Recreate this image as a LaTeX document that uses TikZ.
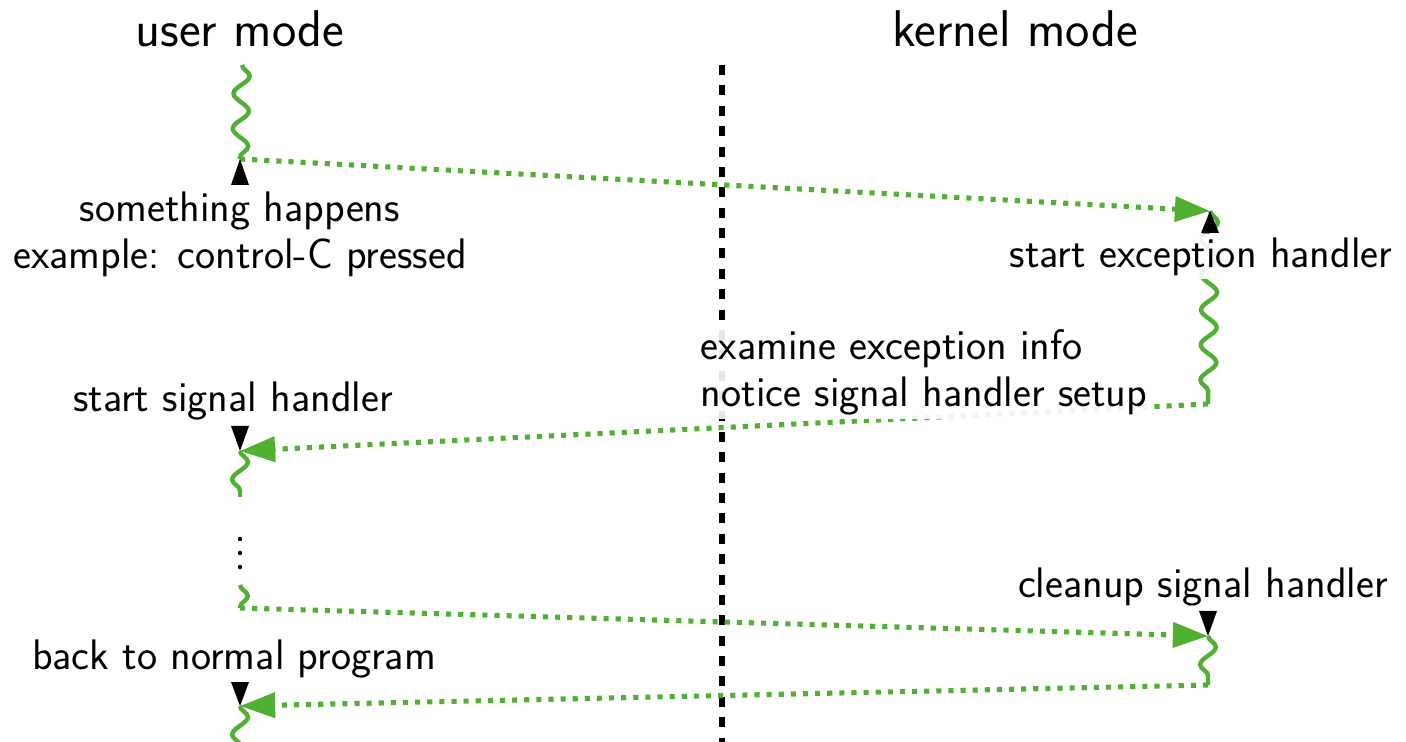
\documentclass[tikz,border=0pt]{standalone}
\usepackage{fontspec}
\usetikzlibrary{decorations.pathmorphing,arrows.meta}
\definecolor{sigreen}{RGB}{80,176,50}
\begin{document}
\begin{tikzpicture}[x=0.02cm,y=-0.02cm,
  sepline/.style={draw=black, line width=3pt, dash pattern=on 5.7pt off 5.9pt},
  flow/.style={draw=sigreen, line width=2.9pt, dash pattern=on 2.9pt off 4pt,
     -{Triangle[length=20pt,width=14pt,fill=sigreen]}},
  wiggle/.style={draw=sigreen, line width=2.5pt, decorate,
     decoration={snake, amplitude=4.5pt, segment length=20pt}},
  trig/.style={fill=black},
  lbl/.style={font=\sffamily\fontsize{24.3}{26.6}\selectfont, fill=white,
     fill opacity=0.9, text opacity=1, inner sep=2pt},
  mode/.style={font=\sffamily\fontsize{29.4}{34}\selectfont, inner sep=0pt},
  dot/.style={fill=black}]
\useasboundingbox (0,0) rectangle (1406,742);
% coordinates
\coordinate (s0) at (722,65);
\coordinate (s1) at (722,742);
\coordinate (u0) at (242,65);
\coordinate (u1) at (240,159);
\coordinate (k1) at (1210,211);
\coordinate (k2) at (1208,404);
\coordinate (u2) at (240,451);
\coordinate (u3) at (240,497);
\coordinate (u4) at (240,585);
\coordinate (u5) at (240,608);
\coordinate (k3) at (1208,636);
\coordinate (k4) at (1208,685);
\coordinate (u6) at (240,706);
\coordinate (u7) at (240,760);
% headings
\node[mode, anchor=base] (um) at (240,47) {user mode};
\node[mode, anchor=base] (km) at (1015,47) {kernel mode};
% separator
\draw[sepline] (s0) -- (s1);
% wiggles
\draw[wiggle] (u0) -- (u1);
\draw[wiggle] (k1) -- (k2);
\draw[wiggle] (u2) -- (u3);
\draw[wiggle] (u4) -- (u5);
\draw[wiggle] (k3) -- (k4);
\draw[wiggle] (u6) -- (u7);
% transfers
\draw[flow] (u1) -- (k1);
\draw[flow] (k2) -- (u2);
\draw[flow] (u5) -- (k3);
\draw[flow] (k4) -- (u6);
% labels
\node[lbl, align=center, anchor=north] (l1) at (240,188) {something happens\\example: control-C pressed};
\node[lbl, anchor=north] (l2) at (1201,234) {start exception handler};
\node[lbl, align=left, anchor=north west] (l3) at (697,326) {examine exception info\\notice signal handler setup};
\node[lbl, anchor=south] (l4) at (233,424) {start signal handler};
\node[lbl, anchor=south] (l5) at (1203,610) {cleanup signal handler};
\node[lbl, anchor=south] (l6) at (234,682) {back to normal program};
% vertical ellipsis
\fill[dot] (240,539) circle (2.2);
\fill[dot] (240,553) circle (2.2);
\fill[dot] (240,567) circle (2.2);
% markers
\fill[trig] (u1) -- ++(-9,26) -- ++(18,0) -- cycle;
\fill[trig] (k1) -- ++(-9,22) -- ++(18,0) -- cycle;
\fill[trig] (u2) -- ++(-9,-25) -- ++(18,0) -- cycle;
\fill[trig] (k3) -- ++(-9,-25) -- ++(18,0) -- cycle;
\fill[trig] (u6) -- ++(-9,-24) -- ++(18,0) -- cycle;
\end{tikzpicture}
\end{document}
